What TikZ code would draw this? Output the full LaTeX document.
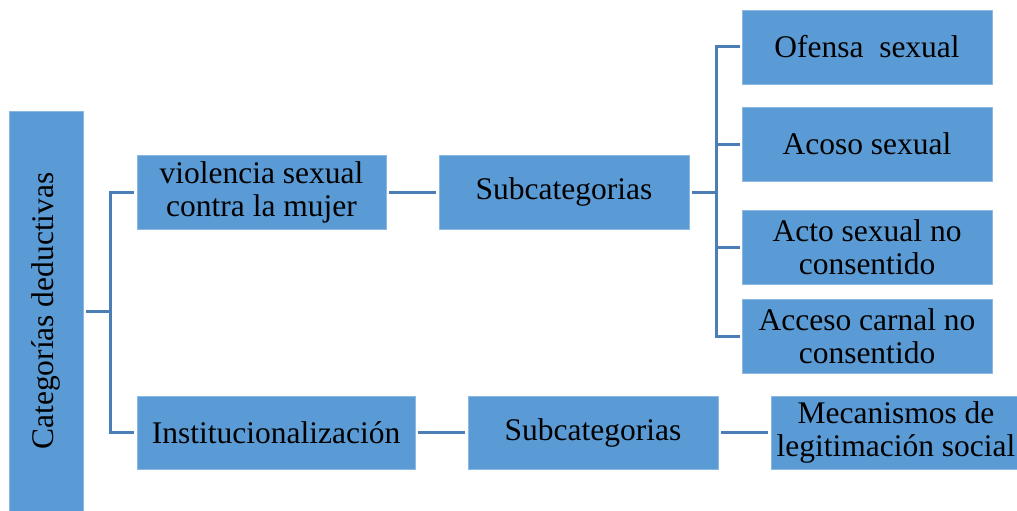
\documentclass[tikz,border=0pt]{standalone}
\usepackage{fontspec}
\setmainfont{Liberation Serif}
\usetikzlibrary{calc}
\definecolor{azulcaja}{HTML}{5B9BD5}
\definecolor{azullinea}{HTML}{4A7EB4}
\tikzset{ %Cajas y enlaces del esquema
    caja/.style={fill=azulcaja,draw=azulcaja!70!white,line width=0.6pt,inner sep=0pt,
        minimum width=250,minimum height=74,align=center,
        font=\fontsize{31.5}{33}\selectfont},
    enlace/.style={draw=azullinea,line width=3pt,shorten <=3pt,shorten >=3pt}
}
\begin{document}
\begin{tikzpicture}[x=1pt,y=-1pt]
            \useasboundingbox (0,0) rectangle (1017,511);
            \begin{scope}
            \clip (0,0) rectangle (1017,511);
            \node[caja,minimum width=74,minimum height=400] (cat) at (46,311) {\rotatebox{90}{Categorías deductivas}};
            \node[caja,minimum width=249] (viol) at (261.5,192) {violencia sexual\\contra la mujer};
            \node[caja,minimum width=278,minimum height=73] (inst) at (276,432.5) {Institucionalización};
            \node[caja] (sub1) at (564,192) {Subcategorias};
            \node[caja,minimum height=73] (sub2) at (593,432.5) {Subcategorias};
            \node[caja] (ofe) at (867,47) {Ofensa~ sexual};
            \node[caja] (aco) at (867,144) {Acoso sexual};
            \node[caja] (act) at (867,247) {Acto sexual no\\consentido};
            \node[caja] (acc) at (867,336) {Acceso carnal no\\consentido};
            \node[caja,minimum height=73] (mec) at (896,432.5) {Mecanismos de\\legitimación social};
            \end{scope}
            \coordinate (j1) at ($(cat.east)+(27,0)$);
            \coordinate (j2) at ($(sub1.east)+(27,0)$);
            \draw[enlace,shorten >=0pt] (cat.east) -- (j1);
            \draw[enlace,shorten <=0pt] (j1) |- (viol.west);
            \draw[enlace,shorten <=0pt] (j1) |- (inst.west);
            \draw[enlace] (viol.east) -- (sub1.west);
            \draw[enlace] (inst.east) -- (sub2.west);
            \draw[enlace] (sub2.east) -- (mec.west);
            \draw[enlace,shorten >=0pt] (sub1.east) -- (j2);
            \foreach \hoja in {ofe,aco,act,acc}
                \draw[enlace,shorten <=0pt,shorten >=2pt] (j2) |- (\hoja.west);
        \end{tikzpicture}
\end{document}
